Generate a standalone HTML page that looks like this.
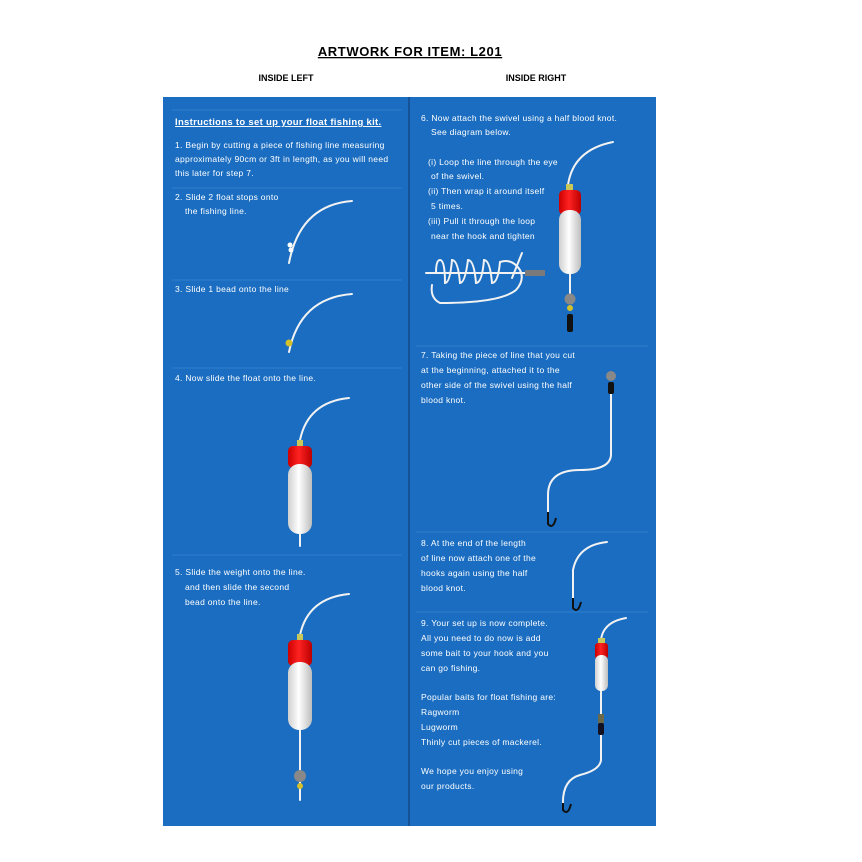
<!DOCTYPE html>
<html><head><meta charset="utf-8"><style>
html,body{margin:0;padding:0;background:#fff;}
svg{display:block;}
text{font-family:"Liberation Sans",sans-serif;}
.t{fill:#fff;font-size:8.5px;letter-spacing:0.3px;}
</style></head><body>
<svg width="862" height="862" viewBox="0 0 862 862" xmlns="http://www.w3.org/2000/svg">
<defs>
<linearGradient id="fw" x1="0" x2="1"><stop offset="0" stop-color="#cfcfcf"/><stop offset="0.45" stop-color="#fff"/><stop offset="1" stop-color="#bdbdbd"/></linearGradient>
<linearGradient id="fr" x1="0" x2="1"><stop offset="0" stop-color="#c00"/><stop offset="0.45" stop-color="#f22"/><stop offset="1" stop-color="#b00"/></linearGradient>
</defs>
<text x="410" y="56" text-anchor="middle" font-size="13" font-weight="bold" letter-spacing="0.6" text-decoration="underline">ARTWORK FOR ITEM:  L201</text>
<text x="286" y="81" text-anchor="middle" font-size="9" font-weight="bold">INSIDE LEFT</text>
<text x="536" y="81" text-anchor="middle" font-size="9" font-weight="bold">INSIDE RIGHT</text>
<rect x="163" y="97" width="493" height="729" fill="#1a6dc1"/>
<line x1="409" y1="97" x2="409" y2="826" stroke="#15498a" stroke-width="1.5"/>
<g stroke="#3d86d0" stroke-width="0.8">
<line x1="172" y1="110" x2="402" y2="110"/>
<line x1="172" y1="188" x2="402" y2="188"/>
<line x1="172" y1="280" x2="402" y2="280"/>
<line x1="172" y1="368" x2="402" y2="368"/>
<line x1="172" y1="555" x2="402" y2="555"/>
<line x1="416" y1="346" x2="648" y2="346"/>
<line x1="416" y1="532" x2="648" y2="532"/>
<line x1="416" y1="612" x2="648" y2="612"/>
</g>
<g class="t">
<text x="175" y="125" font-size="9.5" font-weight="bold" text-decoration="underline">Instructions to set up your float fishing kit.</text>
<text x="175" y="148">1. Begin by cutting a piece of fishing line measuring</text>
<text x="175" y="162">approximately 90cm or 3ft in length, as you will need</text>
<text x="175" y="176">this later for step 7.</text>
<text x="175" y="200">2. Slide 2 float stops onto</text>
<text x="185" y="214">the fishing line.</text>
<text x="175" y="292">3. Slide 1 bead onto the line</text>
<text x="175" y="381">4. Now slide the float onto the line.</text>
<text x="175" y="575">5. Slide the weight onto the line.</text>
<text x="185" y="590">and then slide the second</text>
<text x="185" y="605">bead onto the line.</text>
<text x="421" y="121">6. Now attach the swivel using a half blood knot.</text>
<text x="431" y="135">See diagram below.</text>
<text x="428" y="165">(i) Loop the line through the eye</text>
<text x="431" y="179">of the swivel.</text>
<text x="428" y="194">(ii) Then wrap it around itself</text>
<text x="431" y="209">5 times.</text>
<text x="428" y="224">(iii) Pull it through the loop</text>
<text x="431" y="239">near the hook and tighten</text>
<text x="421" y="358">7. Taking the piece of line that you cut</text>
<text x="421" y="373">at the beginning, attached it to the</text>
<text x="421" y="388">other side of the swivel using the half</text>
<text x="421" y="403">blood knot.</text>
<text x="421" y="546">8. At the end of the length</text>
<text x="421" y="561">of line now attach one of the</text>
<text x="421" y="576">hooks again using the half</text>
<text x="421" y="591">blood knot.</text>
<text x="421" y="626">9. Your set up is now complete.</text>
<text x="421" y="641">All you need to do now is add</text>
<text x="421" y="656">some bait to your hook and you</text>
<text x="421" y="671">can go fishing.</text>
<text x="421" y="700">Popular baits for float fishing are:</text>
<text x="421" y="715">Ragworm</text>
<text x="421" y="730">Lugworm</text>
<text x="421" y="745">Thinly cut pieces of mackerel.</text>
<text x="421" y="774">We hope you enjoy using</text>
<text x="421" y="789">our products.</text>
</g>
<g fill="none" stroke="#f2f2f2" stroke-width="2" stroke-linecap="round">
<path d="M352 201 Q300 205 289 263"/>
<path d="M352 294 Q300 298 289 352"/>
<path d="M349 398 Q308 402 300 440"/>
<line x1="300" y1="532" x2="300" y2="546"/>
<path d="M349 594 Q308 598 300 635"/>
<line x1="300" y1="728" x2="300" y2="770"/>
<line x1="300" y1="782" x2="300" y2="800"/>
<path d="M613 142 Q573 150 568 185"/>
<line x1="570" y1="272" x2="570" y2="297"/>
<path d="M611 392 L611 455 Q610 470 580 470 Q548 470 548 495 L548 515"/>
<path d="M607 542 Q578 545 573 570 L573 600"/>
<path d="M626 618 Q603 622 601 640"/>
<path d="M601 690 L601 715"/>
<path d="M601 735 L601 760 Q600 770 580 775 Q562 780 563 805"/>
<path d="M426 273 L526 273"/>
<path d="M436 273 Q436 260 440 260 Q445 260 445 283 Q450 283 452 260 Q458 260 460 283 Q465 283 468 260 Q474 260 476 283 Q482 283 484 260 Q490 260 492 283 Q498 283 500 262 Q512 258 520 270 Q525 280 516 290 Q500 303 440 303 Q430 298 432 285"/>
<path d="M512 278 L522 253"/>
</g>
<rect x="525" y="270" width="20" height="6" fill="#7a7a7a"/>
<g>
<circle cx="291" cy="250" r="2.5" fill="#fff"/><circle cx="290" cy="245" r="2.5" fill="#fff"/>
<circle cx="289" cy="343" r="3.5" fill="#d4c02a"/>
<rect x="297" y="440" width="6" height="6" fill="#c8c85a"/>
<rect x="288" y="446" width="24" height="22" rx="5" fill="url(#fr)"/>
<rect x="288" y="464" width="24" height="70" rx="11" fill="url(#fw)"/>
<rect x="297" y="634" width="6" height="6" fill="#c8c85a"/>
<rect x="288" y="640" width="24" height="26" rx="5" fill="url(#fr)"/>
<rect x="288" y="662" width="24" height="68" rx="11" fill="url(#fw)"/>
<circle cx="300" cy="776" r="6" fill="#888"/>
<circle cx="300" cy="786" r="3" fill="#d4c02a"/>
<rect x="566" y="184" width="7" height="8" fill="#c8c85a"/>
<rect x="559" y="190" width="22" height="25" rx="5" fill="url(#fr)"/>
<rect x="559" y="210" width="22" height="64" rx="10" fill="url(#fw)"/>
<circle cx="570" cy="299" r="5.5" fill="#888"/>
<circle cx="570" cy="308" r="3" fill="#d4c02a"/>
<rect x="567" y="314" width="6" height="18" rx="2" fill="#111"/>
<circle cx="611" cy="376" r="5" fill="#888"/>
<rect x="608" y="382" width="6" height="12" rx="2" fill="#111"/>
<rect x="598" y="638" width="7" height="6" fill="#c8c85a"/>
<rect x="595" y="643" width="13" height="16" rx="3" fill="url(#fr)"/>
<rect x="595" y="655" width="13" height="36" rx="6" fill="url(#fw)"/>
<rect x="598" y="714" width="6" height="9" fill="#6a6a4a"/>
<rect x="598" y="723" width="6" height="12" rx="2" fill="#112"/>
</g>
<g fill="none" stroke="#111" stroke-width="2">
<path d="M548 512 L548 524 Q553 530 556 518"/>
<path d="M573 598 L573 608 Q578 614 581 602"/>
<path d="M563 803 L563 810 Q568 816 571 804"/>
</g>
</svg>
</body></html>
